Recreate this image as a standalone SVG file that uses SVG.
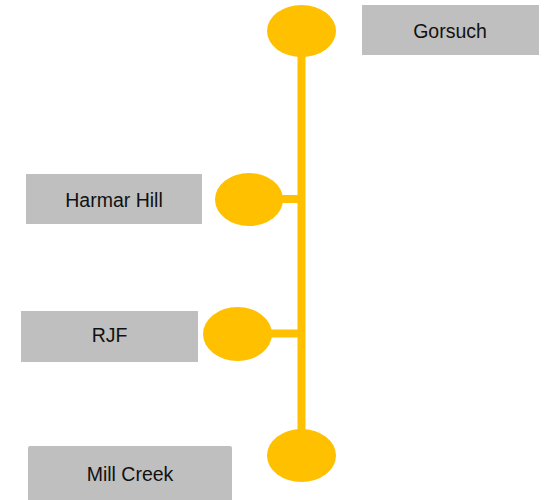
<svg xmlns="http://www.w3.org/2000/svg" width="550" height="500" viewBox="0 0 550 500">
  <style>
    .dot { fill: #FFC000; }
    .box { fill: #BFBFBF; }
    .lbl { font-family: "Liberation Sans", Arial, sans-serif; font-size: 19.5px; fill: #111; text-anchor: middle; dominant-baseline: central; }
    .line { stroke: #FFC000; stroke-width: 8; fill: none; }
  </style>
  <rect width="550" height="500" fill="#FFFFFF"/>
  <g id="connectors">
    <line class="line" x1="301.5" y1="50" x2="301.5" y2="435"/>
    <line class="line" x1="278" y1="199" x2="301.5" y2="199"/>
    <line class="line" x1="266" y1="333.5" x2="301.5" y2="333.5"/>
  </g>
  <g id="gorsuch">
    <ellipse class="dot" cx="301.5" cy="31" rx="34.5" ry="26"/>
    <rect class="box" x="362" y="5" width="177" height="50"/>
    <text class="lbl" x="450" y="31">Gorsuch</text>
  </g>
  <g id="harmar-hill">
    <ellipse class="dot" cx="249" cy="199.5" rx="34" ry="26.5"/>
    <rect class="box" x="26" y="174" width="176" height="50"/>
    <text class="lbl" x="114" y="200">Harmar Hill</text>
  </g>
  <g id="rjf">
    <ellipse class="dot" cx="237.5" cy="334" rx="34.5" ry="27"/>
    <rect class="box" x="21" y="311" width="177" height="51"/>
    <text class="lbl" x="109.5" y="335">RJF</text>
  </g>
  <g id="mill-creek">
    <ellipse class="dot" cx="301.5" cy="455.5" rx="34.5" ry="26.5"/>
    <rect class="box" x="28" y="446" width="204" height="60" rx="2"/>
    <text class="lbl" x="130" y="474">Mill Creek</text>
  </g>
</svg>
